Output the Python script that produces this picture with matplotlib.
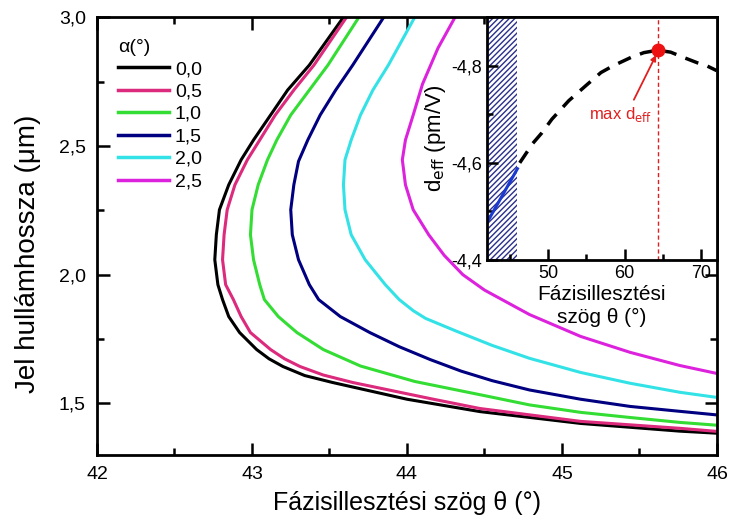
import numpy as np
from matplotlib import pyplot as plt
from matplotlib.ticker import FuncFormatter, MultipleLocator

# phase matching curves (theta in deg, lambda in um)
alphas = ["0,0", "0,5", "1,0", "1,5", "2,0", "2,5"]
colors = ["black", "#dc2a7c", "#33dd33", "#000080", "#33e2e6", "#dd22dd"]

theta_a00 = [43.59, 43.37, 43.23, 43.12, 43.01, 42.93, 42.85, 42.79, 42.77, 42.76, 42.78, 42.81, 42.85, 42.92,
             43.03, 43.11, 43.20, 43.34, 43.52, 44.00, 44.47, 45.12, 45.76, 46.0]
lam_a00 = [3.0, 2.814, 2.717, 2.620, 2.523, 2.446, 2.349, 2.252, 2.155, 2.058, 1.961, 1.903, 1.837, 1.775,
           1.709, 1.673, 1.643, 1.608, 1.581, 1.516, 1.468, 1.422, 1.392, 1.384]

theta_a05 = [43.61, 43.40, 43.27, 43.15, 43.05, 42.97, 42.89, 42.84, 42.82, 42.81, 42.83, 42.88, 42.93, 42.99,
             43.12, 43.21, 43.31, 43.46, 43.65, 44.17, 44.47, 45.12, 45.76, 46.0]
lam_a05 = [3.0, 2.814, 2.717, 2.620, 2.523, 2.446, 2.349, 2.252, 2.155, 2.058, 1.961, 1.903, 1.837, 1.775,
           1.709, 1.673, 1.643, 1.610, 1.581, 1.516, 1.480, 1.430, 1.403, 1.391]

theta_a10 = [43.69, 43.49, 43.37, 43.25, 43.16, 43.10, 43.04, 43.00, 42.99, 43.01, 43.05, 43.08, 43.17, 43.29,
             43.46, 43.70, 44.05, 44.50, 44.79, 45.12, 45.44, 45.76, 46.0]
lam_a10 = [3.0, 2.814, 2.717, 2.620, 2.523, 2.446, 2.349, 2.252, 2.155, 2.058, 1.961, 1.903, 1.837, 1.775,
           1.709, 1.645, 1.585, 1.530, 1.494, 1.465, 1.445, 1.426, 1.415]

theta_a15 = [43.85, 43.65, 43.54, 43.44, 43.36, 43.30, 43.27, 43.25, 43.26, 43.30, 43.37, 43.43, 43.57, 43.76,
             43.95, 44.15, 44.35, 44.55, 44.79, 45.12, 45.44, 45.76, 46.0]
lam_a15 = [3.0, 2.814, 2.717, 2.620, 2.523, 2.440, 2.349, 2.252, 2.155, 2.058, 1.961, 1.903, 1.837, 1.775,
           1.720, 1.670, 1.625, 1.588, 1.552, 1.516, 1.488, 1.469, 1.455]

theta_a20 = [44.05, 43.88, 43.78, 43.70, 43.64, 43.60, 43.59, 43.60, 43.64, 43.73, 43.86, 43.95, 44.04, 44.12,
             44.32, 44.55, 44.79, 45.12, 45.44, 45.76, 46.0]
lam_a20 = [3.0, 2.814, 2.717, 2.620, 2.523, 2.446, 2.349, 2.252, 2.155, 2.058, 1.961, 1.903, 1.860, 1.830,
           1.780, 1.725, 1.675, 1.620, 1.578, 1.543, 1.523]

theta_a25 = [44.31, 44.20, 44.10, 44.04, 43.99, 43.97, 43.99, 44.04, 44.14, 44.24, 44.36, 44.50, 44.79, 45.12,
             45.44, 45.76, 46.0]
lam_a25 = [3.0, 2.880, 2.740, 2.620, 2.523, 2.446, 2.349, 2.252, 2.155, 2.075, 2.000, 1.940, 1.845, 1.760,
           1.698, 1.647, 1.616]

# inset: d_eff vs phase matching angle
inset_theta = [46.3, 48.0, 49.2, 50.5, 52.7, 55.0, 56.9, 58.5, 60.8, 62.5, 64.3, 66.0, 67.7, 69.5, 70.7, 72.0]
inset_deff = [-4.60, -4.64, -4.662, -4.69, -4.728, -4.76, -4.786, -4.80, -4.817, -4.827, -4.832, -4.828, -4.817,
              -4.806, -4.80, -4.79]
range_theta = [42.0, 46.0]
range_deff = [-4.476, -4.588]
max_theta = 64.3
max_deff = -4.832


def comma(v, pos):
    return ("%.1f" % v).replace(".", ",")


plt.rcParams["font.family"] = ["Liberation Sans", "DejaVu Sans"]
plt.rcParams["hatch.linewidth"] = 1.0

fig = plt.figure(figsize=(7.32, 5.21), dpi=100)
ax = fig.add_axes([0.1325, 0.127, 0.847, 0.840])

curves = [(theta_a00, lam_a00), (theta_a05, lam_a05), (theta_a10, lam_a10),
          (theta_a15, lam_a15), (theta_a20, lam_a20), (theta_a25, lam_a25)]
for (th, lam), c, a in zip(curves, colors, alphas):
    ax.plot(th, lam, color=c, lw=2.2, label=a, solid_joinstyle="round")

ax.set_xlim(42, 46)
ax.set_ylim(1.3, 3.0)
ax.xaxis.set_major_locator(MultipleLocator(1))
ax.xaxis.set_minor_locator(MultipleLocator(0.5))
ax.yaxis.set_major_locator(MultipleLocator(0.5))
ax.yaxis.set_minor_locator(MultipleLocator(0.25))
ax.yaxis.set_major_formatter(FuncFormatter(comma))
ax.tick_params(which="both", direction="in", top=True, right=True, width=1.8, color="black",
               labelsize=14, pad=8)
ax.tick_params(which="major", length=9)
ax.tick_params(which="minor", length=5)
for s in ax.spines.values():
    s.set_linewidth(2)
ax.set_xlabel("Fázisillesztési szög θ (°)", fontsize=18, labelpad=6)
ax.set_ylabel("Jel hullámhossza (μm)", fontsize=20)
ax.yaxis.set_label_coords(-0.09, 0.46)

leg = ax.legend(loc="upper left", frameon=False, title="α(°)", fontsize=14, title_fontsize=14,
                handlelength=2.6, handletextpad=0.3, labelspacing=0.25, borderaxespad=0.7)
leg._legend_box.align = "left"
for ln in leg.get_lines():
    ln.set_linewidth(2.5)

# inset
ins = fig.add_axes([0.665, 0.501, 0.314, 0.466])
ins.axvspan(range_theta[0], range_theta[1], facecolor="white", edgecolor="#2a2f8c", hatch="//////", lw=0)
ins.plot(range_theta, range_deff, color="#1a3ad0", lw=2.2)
ins.plot(inset_theta, inset_deff, color="black", lw=2.5, ls=(0, (4, 2.8)))
ins.axvline(max_theta, color="#e02020", lw=1, ls=(0, (3, 2)))
ins.plot([max_theta], [max_deff], "o", color="#ee1111", ms=9)
ins.text(59.5, -4.70, "max d$_{\\rm eff}$", color="#e02020", fontsize=12, ha="center", va="center")
ins.annotate("", xy=(max_theta - 0.2, max_deff + 0.01), xytext=(61.2, -4.73),
             arrowprops=dict(arrowstyle="-|>", color="#e02020", lw=1.3, shrinkA=0, shrinkB=0,
                             mutation_scale=8))
ins.set_xlim(42, 72)
ins.set_ylim(-4.4, -4.9)
ins.xaxis.set_major_locator(MultipleLocator(10))
ins.xaxis.set_minor_locator(MultipleLocator(5))
ins.yaxis.set_major_locator(MultipleLocator(0.2))
ins.yaxis.set_minor_locator(MultipleLocator(0.1))
ins.yaxis.set_major_formatter(FuncFormatter(comma))
ins.tick_params(which="both", direction="in", width=1.8, color="black", labelsize=13)
ins.tick_params(which="major", length=8)
ins.tick_params(which="minor", length=4)
for s in ins.spines.values():
    s.set_linewidth(2)
ins.set_xlabel("Fázisillesztési\nszög θ (°)", fontsize=15, labelpad=2, linespacing=1.3)
ins.set_ylabel("d$_{\\rm eff}$ (pm/V)", fontsize=16, labelpad=2)

fig.savefig("out.png", dpi=100)
